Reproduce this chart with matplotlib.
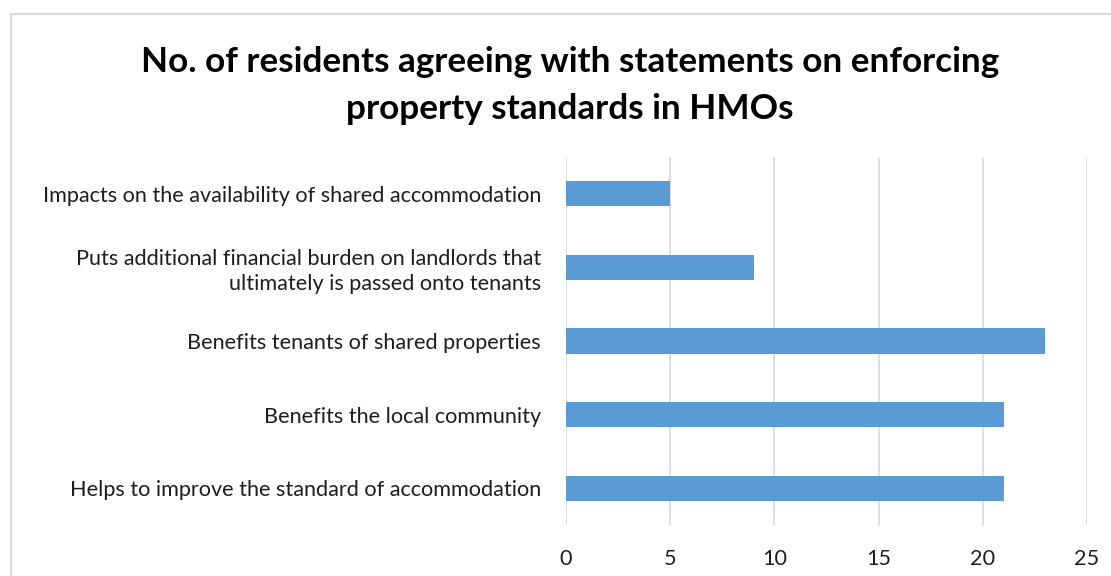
import matplotlib
matplotlib.use('Agg')
import matplotlib.pyplot as plt
from matplotlib.patches import Rectangle


CATEGORIES = [
    'Helps to improve the standard of accommodation',
    'Benefits the local community',
    'Benefits tenants of shared properties',
    'Puts additional financial burden on landlords that\nultimately is passed onto tenants',
    'Impacts on the availability of shared accommodation',
]
VALUES = [21, 21, 23, 9, 5]
XTICKS = [0, 5, 10, 15, 20, 25]
TITLE = ('No. of residents agreeing with statements on enforcing\n'
         'property standards in HMOs')

W, H = 1111, 576


def main():
  plt.rcParams['font.family'] = ['Lato', 'DejaVu Sans']
  fig = plt.figure(figsize=(W / 100, H / 100), dpi=100)

  # chart area border (cut off at the right and bottom like the original)
  fig.patches.append(Rectangle(
      (11 / W, -0.1), 1.2, 1 - 14 / H + 0.1, transform=fig.transFigure,
      fill=False, edgecolor='#d9d9d9', lw=1.5))

  left, right = 566 / W, 1087 / W
  top, bottom = 157 / H, 525 / H
  ax = fig.add_axes([left, 1 - bottom, right - left, bottom - top])

  ys = range(len(CATEGORIES))
  ax.barh(ys, VALUES, height=0.34, color='#5b9bd5', zorder=3)
  ax.set_xlim(0, 25)
  ax.set_ylim(-0.5, len(CATEGORIES) - 0.5)
  ax.set_yticks(list(ys))
  ax.set_yticklabels(CATEGORIES, fontsize=15.6, color='#1e1e1e',
                     linespacing=1.3)
  ax.set_xticks(XTICKS)
  ax.set_xticklabels([str(t) for t in XTICKS], fontsize=15.6, color='#1e1e1e')
  ax.tick_params(axis='both', length=0)
  ax.tick_params(axis='y', pad=18)
  ax.tick_params(axis='x', pad=17)
  ax.grid(axis='x', color='#d9d9d9', lw=1.2, zorder=0)
  for spine in ax.spines.values():
    spine.set_visible(False)

  fig.text(0.513, 1 - 85.5 / H, TITLE, ha='center', va='center',
           fontsize=25.3, fontweight='bold', color='#000000', linespacing=1.6)

  fig.savefig('out.png', dpi=100)


main()
